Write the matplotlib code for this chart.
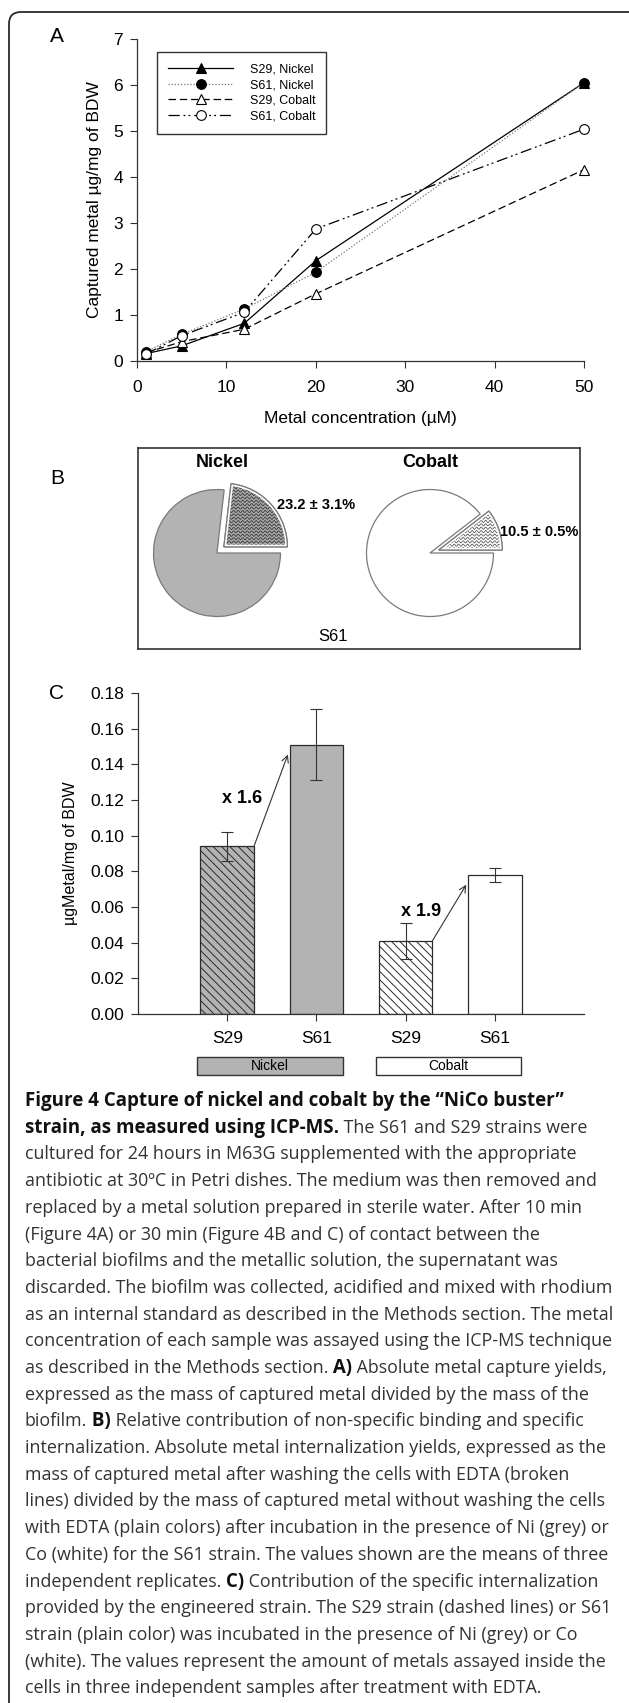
import matplotlib
matplotlib.use("Agg")
import matplotlib.pyplot as plt
import matplotlib.patches as mpatches
import matplotlib.transforms as mtransforms
import numpy as np

W, H = 629, 1703

# panel A: captured metal vs concentration
conc = [1, 5, 12, 20, 50]
s29_ni = [0.16, 0.33, 0.82, 2.18, 6.05]
s61_ni = [0.20, 0.58, 1.13, 1.93, 6.05]
s29_co = [0.18, 0.42, 0.69, 1.46, 4.16]
s61_co = [0.15, 0.55, 1.06, 2.87, 5.04]
series_labels = ["S29, Nickel", "S61, Nickel", "S29, Cobalt", "S61, Cobalt"]

# panel B: internalized fraction (S61)
pie_metals = ["Nickel", "Cobalt"]
internal_pct = [23.2, 10.5]
internal_err = [3.1, 0.5]

# panel C: metal inside the cells after EDTA
strains = ["S29", "S61", "S29", "S61"]
metals = ["Nickel", "Cobalt"]
captured = [0.094, 0.151, 0.041, 0.078]
captured_err = [0.008, 0.020, 0.010, 0.004]

CAP_FONT = "Open Sans"
caption = [
    [("Figure 4 Capture of nickel and cobalt by the \u201cNiCo buster\u201d", True)],
    [("strain, as measured using ICP-MS.", True), (" The S61 and S29 strains were", False)],
    [("cultured for 24 hours in M63G supplemented with the appropriate", False)],
    [("antibiotic at 30\u00baC in Petri dishes. The medium was then removed and", False)],
    [("replaced by a metal solution prepared in sterile water. After 10 min", False)],
    [("(Figure 4A) or 30 min (Figure 4B and C) of contact between the", False)],
    [("bacterial biofilms and the metallic solution, the supernatant was", False)],
    [("discarded. The biofilm was collected, acidified and mixed with rhodium", False)],
    [("as an internal standard as described in the Methods section. The metal", False)],
    [("concentration of each sample was assayed using the ICP-MS technique", False)],
    [("as described in the Methods section.", False), (" A)", True),
     (" Absolute metal capture yields,", False)],
    [("expressed as the mass of captured metal divided by the mass of the", False)],
    [("biofilm.", False), (" B)", True),
     (" Relative contribution of non-specific binding and specific", False)],
    [("internalization. Absolute metal internalization yields, expressed as the", False)],
    [("mass of captured metal after washing the cells with EDTA (broken", False)],
    [("lines) divided by the mass of captured metal without washing the cells", False)],
    [("with EDTA (plain colors) after incubation in the presence of Ni (grey) or", False)],
    [("Co (white) for the S61 strain. The values shown are the means of three", False)],
    [("independent replicates.", False), (" C)", True),
     (" Contribution of the specific internalization", False)],
    [("provided by the engineered strain. The S29 strain (dashed lines) or S61", False)],
    [("strain (plain color) was incubated in the presence of Ni (grey) or Co", False)],
    [("(white). The values represent the amount of metals assayed inside the", False)],
    [("cells in three independent samples after treatment with EDTA.", False)],
]

plt.rcParams["font.family"] = ["Liberation Sans", "DejaVu Sans"]
plt.rcParams["hatch.linewidth"] = 0.7
plt.rcParams["hatch.color"] = "#2b2b2b"

fig = plt.figure(figsize=(W / 100, H / 100), dpi=100)


def box(l, t, r, b):
    return [l / W, 1 - b / H, (r - l) / W, (b - t) / H]


def style_axes(ax):
    ax.spines[["top", "right"]].set_visible(False)
    ax.spines[["left", "bottom"]].set_color("#333333")
    ax.spines[["left", "bottom"]].set_linewidth(0.9)
    ax.tick_params(direction="out", length=5, width=0.8, color="#333333",
                   labelsize=12.5, pad=5)


# rounded page frame (top and left edges only visible)
frame = mpatches.FancyBboxPatch((9, -30), W + 40, H - 12 + 30,
                                boxstyle="round,pad=0,rounding_size=12",
                                transform=mtransforms.IdentityTransform(),
                                fill=False, edgecolor="#2a2a2a", lw=1.3)
fig.add_artist(frame)

for letter, y in zip("ABC", [37, 479, 693]):
    fig.text(57 / W, 1 - y / H, letter, fontsize=15, ha="center", va="center")

# ---------------- panel A
axA = fig.add_axes(box(137, 39, 584, 361))
styles = [
    dict(ls="-", marker="^", mfc="black", color="black"),
    dict(ls=(0, (1, 1.5)), marker="o", mfc="black", color="#777777"),
    dict(ls=(0, (6, 3)), marker="^", mfc="white", color="black"),
    dict(ls=(0, (9, 3, 1.5, 2.5, 1.5, 3)), marker="o", mfc="white", color="black"),
]
for ys, lab, st in zip([s29_ni, s61_ni, s29_co, s61_co], series_labels, styles):
    axA.plot(conc, ys, lw=0.9, ms=7, mec="black", mew=0.8, label=lab,
             clip_on=False, **st)
axA.set_xlim(0, 50)
axA.set_ylim(0, 7)
axA.set_xticks(range(0, 51, 10))
axA.set_yticks(range(0, 8))
style_axes(axA)
axA.tick_params(axis="x", pad=9)
axA.set_xlabel("Metal concentration (\u00b5M)", fontsize=12.5, va="center")
axA.xaxis.set_label_coords(0.5, (361 - 419) / 322)
axA.set_ylabel("Captured metal \u00b5g/mg of BDW", fontsize=12.5, va="center")
axA.yaxis.set_label_coords((94 - 137) / 447, 0.5)
leg = axA.legend(loc="upper left", bbox_to_anchor=((157 - 137) / 447, (361 - 52) / 322),
                 borderaxespad=0, frameon=True, fancybox=False, edgecolor="#333333",
                 framealpha=1, fontsize=9, handlelength=5.2, handletextpad=1.3,
                 labelspacing=0.3, borderpad=0.9)
leg.get_frame().set_linewidth(1.0)

# ---------------- panel B
axB = fig.add_axes(box(138, 448, 580, 649))
pie_centers = [(79, 96), (292, 96)]
label_offsets = [(60, 48), (70, 21)]
radius = 63.5
fills = ["#b3b3b3", "white"]
wedge_bg = ["#a8a8a8", "white"]
wave_col = ["#303030", "#505050"]


def wavy_texture(ax, patch, color, spacing=3.4, amp=1.1, period=4.5):
    x0, y0, x1, y1 = patch.get_path().get_extents().extents
    xs = np.linspace(x0 - 2, x1 + 2, 400)
    for yy in np.arange(y0 - 2, y1 + 2, spacing):
        ln, = ax.plot(xs, yy + amp * np.sin(2 * np.pi * xs / period),
                      color=color, lw=0.55)
        ln.set_clip_path(patch)


for k, metal in enumerate(pie_metals):
    v, e = internal_pct[k], internal_err[k]
    cx, cy = pie_centers[k]
    # pie adds explode in data units, so scale it by the radius
    wedges, _ = axB.pie([v, 100 - v], explode=[0.145 * radius, 0], startangle=0,
                        counterclock=True, center=(cx, cy), radius=radius,
                        colors=[wedge_bg[k], fills[k]], frame=True,
                        wedgeprops=dict(edgecolor="#7a7a7a", linewidth=0.9))
    w0 = wedges[0]
    wavy_texture(axB, w0, wave_col[k])
    # white inner rim + grey outline of the pulled-out slice
    axB.add_patch(mpatches.PathPatch(w0.get_path(), fill=False, ec="white", lw=3.2,
                                     clip_path=w0, zorder=3))
    axB.add_patch(mpatches.PathPatch(w0.get_path(), fill=False, ec="#7a7a7a", lw=0.9,
                                     zorder=4))
    dx, dy = label_offsets[k]
    axB.text(cx + dx, cy + dy, f"{v} \u00b1 {e}%", fontsize=10.5, fontweight="bold",
             ha="left", va="center", zorder=5)
    axB.text(cx + (5 if k == 0 else 0), 186, metal, fontsize=13, fontweight="bold",
             ha="center", va="center")
axB.text(195, 12, "S61", fontsize=12, ha="center", va="center")
axB.set_xlim(0, 442)
axB.set_ylim(0, 201)
axB.set_aspect("auto")
axB.set_xticks([])
axB.set_yticks([])
for sp in axB.spines.values():
    sp.set_color("#333333")
    sp.set_linewidth(1.2)

# ---------------- panel C
axC = fig.add_axes(box(138, 693, 584, 1014))
pos = np.arange(1, len(strains) + 1)
bar_colors = ["#b3b3b3", "#b3b3b3", "white", "white"]
bar_hatch = ["\\\\\\\\", "", "\\\\\\\\", ""]
bars = axC.bar(pos, captured, width=0.6, yerr=captured_err, color=bar_colors,
               edgecolor="#2b2b2b", linewidth=0.9,
               error_kw=dict(ecolor="#333333", elinewidth=0.8, capsize=4, capthick=0.8))
for b, h in zip(bars, bar_hatch):
    b.set_hatch(h)
axC.set_xlim(0, 5)
axC.set_ylim(0, 0.18)
axC.set_yticks(np.arange(0, 0.181, 0.02))
axC.yaxis.set_major_formatter(matplotlib.ticker.FormatStrFormatter("%.2f"))
axC.set_xticks(pos, strains)
style_axes(axC)
axC.tick_params(axis="x", pad=7)
axC.set_ylabel("\u00b5gMetal/mg of BDW", fontsize=11.5, va="center")
axC.yaxis.set_label_coords((70 - 138) / 446, 0.5)

for i, j in [(0, 1), (2, 3)]:
    xs, ys = pos[i] + 0.3, captured[i]
    xe, ye = pos[j] - 0.32, captured[j] - 0.0055
    axC.annotate("", xy=(xe, ye), xytext=(xs, ys),
                 arrowprops=dict(arrowstyle="->", color="#333333", lw=0.8,
                                 shrinkA=0, shrinkB=0, mutation_scale=12))
    axC.text((xs + xe) / 2 - 0.32, (ys + ye) / 2 + 0.001,
             f"x {captured[j] / captured[i]:.1f}", fontsize=13, fontweight="bold",
             ha="center", va="center")

trans = mtransforms.blended_transform_factory(axC.transData, axC.transAxes)
for k, metal in enumerate(metals):
    xc = pos[2 * k:2 * k + 2].mean() - 0.02
    axC.add_patch(mpatches.Rectangle((xc - 0.815, -0.19), 1.63, 0.056, transform=trans,
                                     clip_on=False, facecolor=bar_colors[2 * k],
                                     edgecolor="#333333", lw=1))
    axC.text(xc, -0.162, metal, transform=trans, ha="center", va="center", fontsize=10)

# ---------------- caption
renderer = fig.canvas.get_renderer()


def text_width(s, bold, size):
    t = fig.text(0, 0, s, fontsize=size, family=CAP_FONT,
                 fontweight="bold" if bold else "normal")
    w = t.get_window_extent(renderer).width
    t.remove()
    return w


# fit the regular text to the page width, the bold title to its own width
widest = max(text_width(s, False, 10) for line in caption for s, b in line if not b
             and len(line) == 1)
cap_size = 10 * 589 / widest
bold_size = 10 * 540 / text_width(caption[0][0][0], True, 10)

x_left, y_first, line_step = 25, 1106, 26.7
for n, line in enumerate(caption):
    x = x_left
    y = y_first + n * line_step
    for s, bold in line:
        size = bold_size if bold else cap_size
        fig.text(x / W, 1 - y / H, s, fontsize=size, family=CAP_FONT,
                 fontweight="bold" if bold else "normal",
                 color="#111111" if bold else "#333333", ha="left", va="baseline")
        x += text_width(s, bold, size)

fig.savefig("out.png", dpi=100)
